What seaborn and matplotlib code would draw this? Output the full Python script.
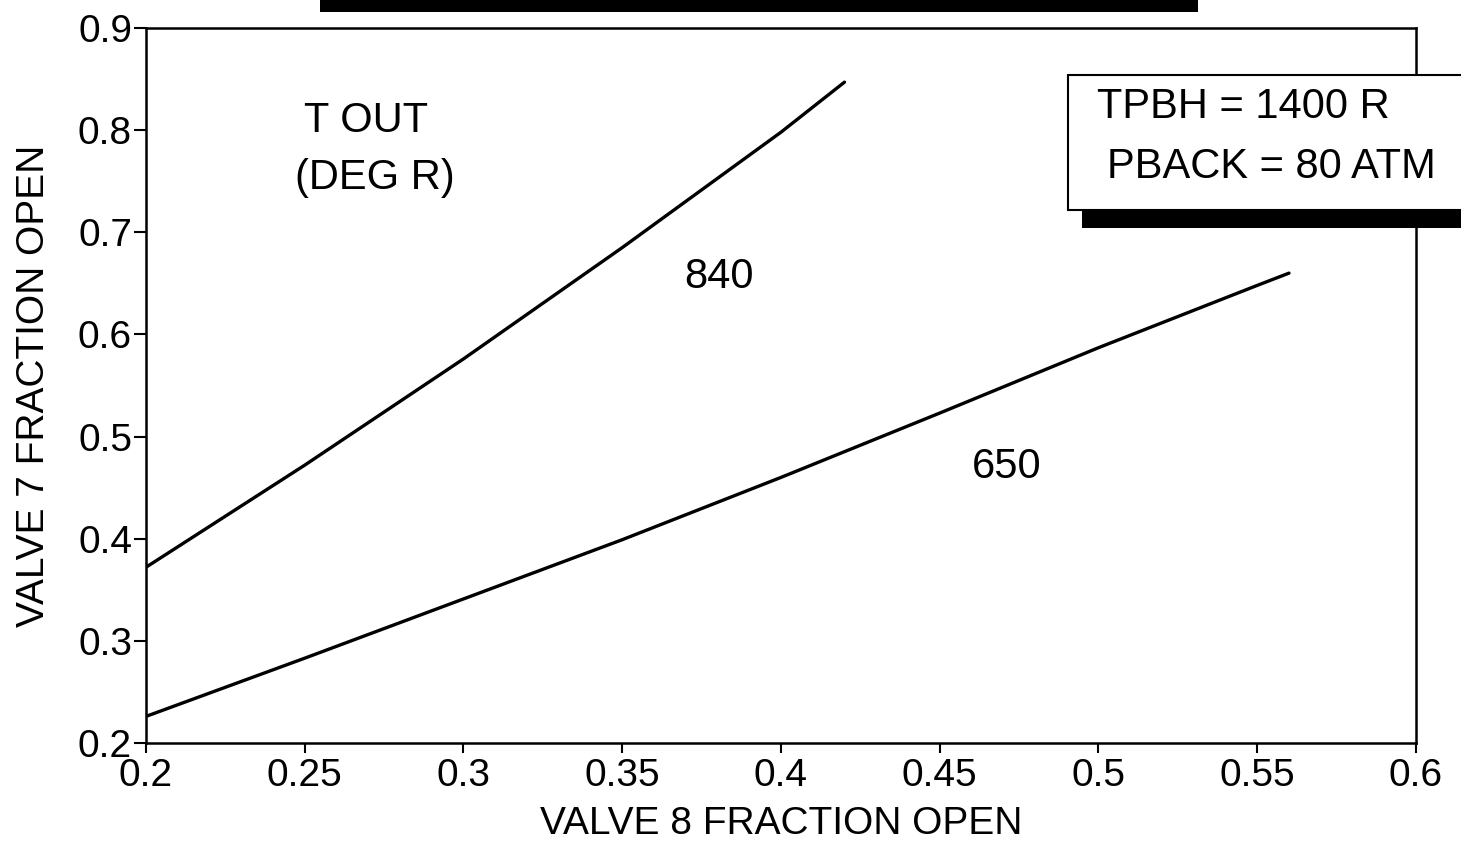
import matplotlib
matplotlib.use("Agg")
import matplotlib.pyplot as plt
from matplotlib.patches import Rectangle
import pandas as pd
import seaborn as sns

# Valve 8 opening vs. valve 7 opening at constant outlet temperature
valve8_840 = [0.20, 0.25, 0.30, 0.35, 0.40, 0.42]
valve7_840 = [0.372, 0.472, 0.576, 0.685, 0.798, 0.847]

valve8_650 = [0.20, 0.25, 0.30, 0.35, 0.40, 0.45, 0.50, 0.55, 0.56]
valve7_650 = [0.226, 0.283, 0.341, 0.399, 0.460, 0.523, 0.587, 0.648, 0.660]

x_ticks = [0.2, 0.25, 0.3, 0.35, 0.4, 0.45, 0.5, 0.55, 0.6]
x_tick_labels = ["0.2", "0.25", "0.3", "0.35", "0.4", "0.45", "0.5", "0.55", "0.6"]
y_ticks = [0.2, 0.3, 0.4, 0.5, 0.6, 0.7, 0.8, 0.9]
y_tick_labels = ["0.2", "0.3", "0.4", "0.5", "0.6", "0.7", "0.8", "0.9"]

df = pd.concat([
    pd.DataFrame({"valve8": valve8_840, "valve7": valve7_840, "tout": "840"}),
    pd.DataFrame({"valve8": valve8_650, "valve7": valve7_650, "tout": "650"}),
])

sns.set_style("ticks")
plt.rcParams["font.family"] = ["Liberation Sans", "DejaVu Sans"]
for key in ["text.color", "axes.labelcolor", "xtick.color", "ytick.color", "axes.edgecolor"]:
    plt.rcParams[key] = "black"

fig = plt.figure(figsize=(14.61, 8.49), dpi=100)
ax = fig.add_axes([0.0999, 0.1249, 0.8693, 0.8421])

sns.lineplot(data=df, x="valve8", y="valve7", units="tout", estimator=None,
             color="black", linewidth=2.4, sort=False, legend=False, ax=ax)

ax.set_xlim(0.2, 0.6)
ax.set_ylim(0.2, 0.9)
ax.set_xticks(x_ticks)
ax.set_xticklabels(x_tick_labels)
ax.set_yticks(y_ticks)
ax.set_yticklabels(y_tick_labels)

for side in ["left", "right", "top", "bottom"]:
    ax.spines[side].set_visible(True)
    ax.spines[side].set_linewidth(1.8)
    ax.spines[side].set_color("black")

ax.tick_params(axis="both", labelsize=28, colors="black", width=1.5)
ax.tick_params(axis="x", direction="out", length=7, pad=4)
ax.tick_params(axis="y", direction="out", length=9, pad=1)

ax.set_xlabel("VALVE 8 FRACTION OPEN", fontsize=28)
ax.set_ylabel("VALVE 7 FRACTION OPEN", fontsize=28)
ax.xaxis.set_label_coords(0.5, -0.088)
ax.yaxis.set_label_coords(-0.074, 0.5)

# Annotations inside the plot
ax.text(0.2693, 0.809, "T OUT", fontsize=30, ha="center", va="center")
ax.text(0.2722, 0.753, "(DEG R)", fontsize=30, ha="center", va="center")
ax.text(0.3806, 0.656, "840", fontsize=30, ha="center", va="center")
ax.text(0.4711, 0.470, "650", fontsize=30, ha="center", va="center")

# Title bar at the top
fig.patches.append(Rectangle((0.219, 0.986), 0.601, 0.02, transform=fig.transFigure,
                             facecolor="black", edgecolor="none", zorder=5))

# Conditions box with drop shadow
fig.patches.append(Rectangle((0.7406, 0.7314), 0.30, 0.0213, transform=fig.transFigure,
                             facecolor="black", edgecolor="none", zorder=5))
fig.patches.append(Rectangle((0.731, 0.7527), 0.30, 0.159, transform=fig.transFigure,
                             facecolor="white", edgecolor="black", linewidth=1.5, zorder=6))
fig.text(0.7508, 0.8734, "TPBH = 1400 R", fontsize=30, ha="left", va="center", zorder=7)
fig.text(0.7577, 0.8033, "PBACK = 80 ATM", fontsize=30, ha="left", va="center", zorder=7)

fig.savefig("out.png", dpi=100, facecolor="white")
